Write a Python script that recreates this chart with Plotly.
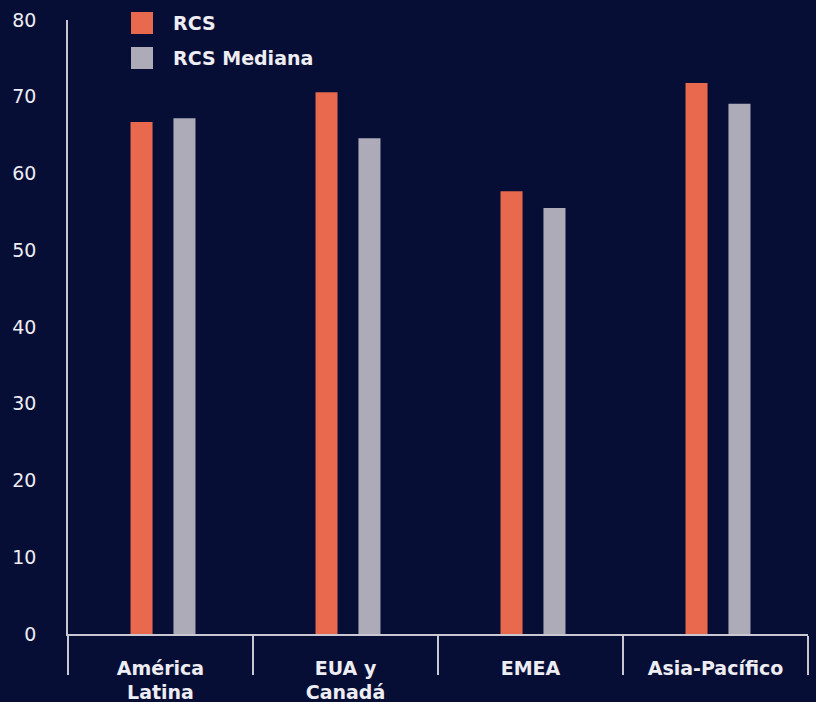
import plotly.graph_objects as go

categories = ["América<br>Latina", "EUA y<br>Canadá", "EMEA", "Asia-Pacífico"]
series_names = ["RCS", "RCS Mediana"]
rcs_values = [66.7, 70.6, 57.7, 71.8]
rcs_mediana_values = [67.2, 64.6, 55.5, 69.1]
y_tick_values = [0, 10, 20, 30, 40, 50, 60, 70, 80]

BG = "#070E36"
ORANGE = "#E8694D"
GREY = "#AEABB9"
LINE = "#C9C8D2"
TEXT = "#EDEDF3"
FONT = "DejaVu Sans"

BAR_W = 0.119
fig = go.Figure()
fig.add_trace(go.Bar(x=categories, y=rcs_values, name=series_names[0],
                     width=BAR_W, offset=-0.162,
                     marker=dict(color=ORANGE, line=dict(width=0))))
fig.add_trace(go.Bar(x=categories, y=rcs_mediana_values, name=series_names[1],
                     width=BAR_W, offset=0.070,
                     marker=dict(color=GREY, line=dict(width=0))))

# manual legend (large square swatches)
legend_colors = [ORANGE, GREY]
for i, (nm, col) in enumerate(zip(series_names, legend_colors)):
    top = 12 + i * 35
    fig.add_shape(type="rect", xref="paper", yref="paper",
                  x0=(131 - 68) / 740, x1=(153 - 68) / 740,
                  y0=(634 - (top + 22)) / 614, y1=(634 - top) / 614,
                  fillcolor=col, line=dict(width=0), layer="above")
    fig.add_annotation(xref="paper", yref="paper", x=(171 - 68) / 740,
                       y=(634 - (top + 11)) / 614, xanchor="left", yanchor="middle",
                       text=nm, showarrow=False,
                       font=dict(family=FONT, size=19, color=TEXT, weight="bold"))

fig.update_layout(
    width=816, height=702,
    paper_bgcolor=BG, plot_bgcolor=BG,
    margin=dict(l=68, r=8, t=20, b=68, autoexpand=False),
    barmode="overlay",
    showlegend=False,
    font=dict(family=FONT, color=TEXT, size=19),
)
fig.update_xaxes(
    automargin=False,
    showline=True, linecolor=LINE, linewidth=1.5,
    showgrid=False, ticks="outside", tickson="boundaries",
    ticklen=39, tickwidth=1.5, tickcolor=LINE,
    ticklabelstandoff=16,
    tickfont=dict(family=FONT, size=19, color=TEXT, weight="bold"),
)
fig.update_yaxes(
    automargin=False,
    range=[0, 80], tickvals=y_tick_values,
    showline=True, linecolor=LINE, linewidth=1.5,
    showgrid=False, zeroline=False, ticks="",
    ticklabelstandoff=26,
    tickfont=dict(family=FONT, size=19, color=TEXT),
)

fig.write_html(
    "out.html",
    config={"displayModeBar": False},
    post_script="document.body.style.margin='0';document.body.style.background='%s';" % BG,
)
